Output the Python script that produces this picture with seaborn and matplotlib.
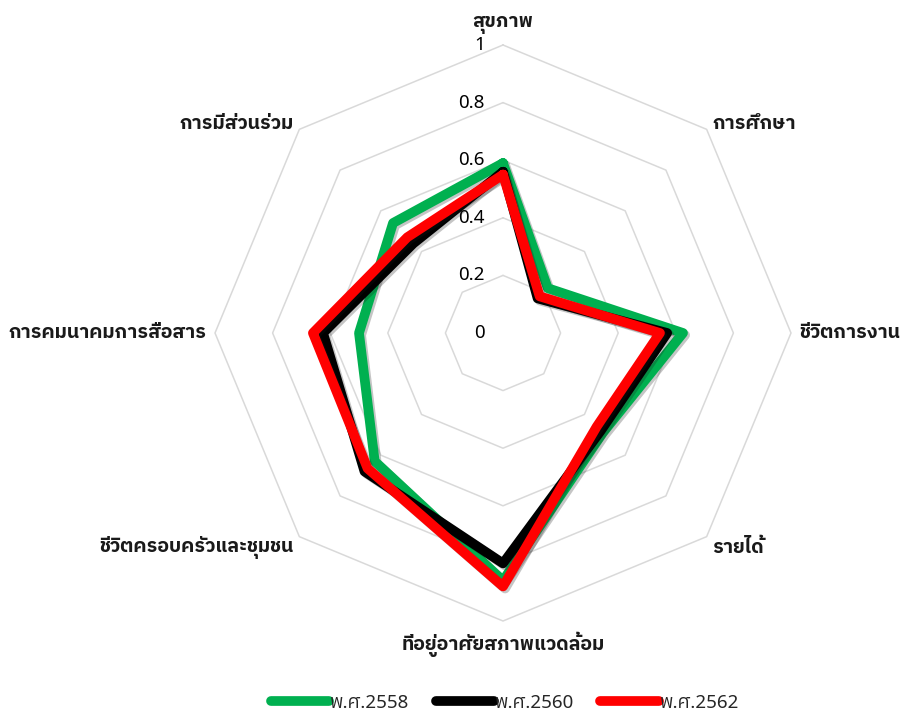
import numpy as np
import pandas as pd
import seaborn as sns
import matplotlib
matplotlib.use("Agg")
import matplotlib.pyplot as plt
import matplotlib.patheffects as pe
from matplotlib import font_manager

categories = [
    "สุขภาพ", "การศึกษา", "ชีวิตการงาน", "รายได้",
    "ที่อยู่อาศัยสภาพแวดล้อม", "ชีวิตครอบครัวและชุมชน",
    "การคมนาคมการสื่อสาร", "การมีส่วนร่วม",
]
series_names = ["พ.ศ.2558", "พ.ศ.2560", "พ.ศ.2562"]
values_2558 = [0.59, 0.22, 0.625, 0.49, 0.86, 0.63, 0.50, 0.54]
values_2560 = [0.56, 0.17, 0.57, 0.48, 0.80, 0.68, 0.625, 0.44]
values_2562 = [0.55, 0.18, 0.545, 0.46, 0.88, 0.665, 0.66, 0.47]
tick_values = [0, 0.2, 0.4, 0.6, 0.8, 1]
tick_labels = ["0", "0.2", "0.4", "0.6", "0.8", "1"]
colors = ["#00b050", "#000000", "#ff0000"]

sns.set_theme(style="white")


def _has_bold(fam):
    for f in font_manager.fontManager.ttflist:
        if f.name == fam and isinstance(f.weight, int) and f.weight >= 600:
            return True
    return False


prefs = ["IBM Plex Sans Thai", "Noto Sans Thai", "Sarabun", "Bai Jamjuree",
         "Prompt", "Kanit", "Anuphan"]
thai_font = next((f for f in prefs if _has_bold(f)), "Bai Jamjuree")
plt.rcParams["font.family"] = ["Noto Sans", thai_font, "DejaVu Sans"]

n = len(categories)
theta = np.arange(n) * 2 * np.pi / n
theta_closed = np.append(theta, theta[0])

fig = plt.figure(figsize=(9.04, 7.17), dpi=100)
ax = fig.add_axes([215 / 904, 96 / 717, 576 / 904, 576 / 717], projection="polar")
ax.set_theta_zero_location("N")
ax.set_theta_direction(-1)
ax.set_ylim(0, 1)
ax.grid(False)
ax.spines["polar"].set_visible(False)
ax.set_xticks([])
ax.set_yticks([])
ax.patch.set_alpha(0)

# octagonal grid rings
for r in tick_values[1:]:
    ax.plot(theta_closed, [r] * (n + 1), color="#d9d9d9", lw=1.1, clip_on=False, zorder=1)

for v, lab in zip(tick_values, tick_labels):
    ax.annotate(lab, xy=(0, v), xytext=(-13, 0), textcoords="offset points",
                ha="right", va="center", fontsize=13.5, color="#000000")

# category labels
for t, lab in zip(theta, categories):
    s, c = np.sin(t), np.cos(t)
    ha = "center" if abs(s) < 0.1 else ("left" if s > 0 else "right")
    va = "center"
    if abs(s) < 0.1:
        va = "bottom" if c > 0 else "top"
    dx, dy = 6 * s, 8 * c
    if abs(s) > 0.1 and abs(c) > 0.1:
        dy = 4 if c > 0 else -8
    ax.annotate(lab, xy=(t, 1), xytext=(dx, dy), textcoords="offset points",
                ha=ha, va=va, fontsize=14, fontweight="bold", color="#1a1a1a",
                annotation_clip=False)

data = pd.DataFrame({
    "theta": np.tile(theta_closed, 3),
    "value": np.concatenate([np.append(v, v[0]) for v in (values_2558, values_2560, values_2562)]),
    "series": np.repeat(series_names, n + 1),
})
for name, col in zip(series_names, colors):
    sub = data[data["series"] == name]
    sns.lineplot(x=sub["theta"].values, y=sub["value"].values, sort=False, estimator=None,
                 color=col, lw=7, ax=ax, label=name, zorder=3,
                 solid_joinstyle="round", solid_capstyle="round",
                 path_effects=[pe.SimpleLineShadow(offset=(1.5, -1.5), alpha=0.25), pe.Normal()])
ax.set_xlabel("")
ax.set_ylabel("")

leg = ax.legend(loc="center", bbox_to_anchor=(505 / 904, 1 - 703 / 717),
                bbox_transform=fig.transFigure, ncol=3, frameon=False,
                fontsize=13.5, handlelength=3.1, handletextpad=0.05, columnspacing=1.4)
for h in leg.get_lines():
    h.set_linewidth(7)
    h.set_solid_capstyle("round")
    h.set_path_effects([])

fig.savefig("out.png", dpi=100)
